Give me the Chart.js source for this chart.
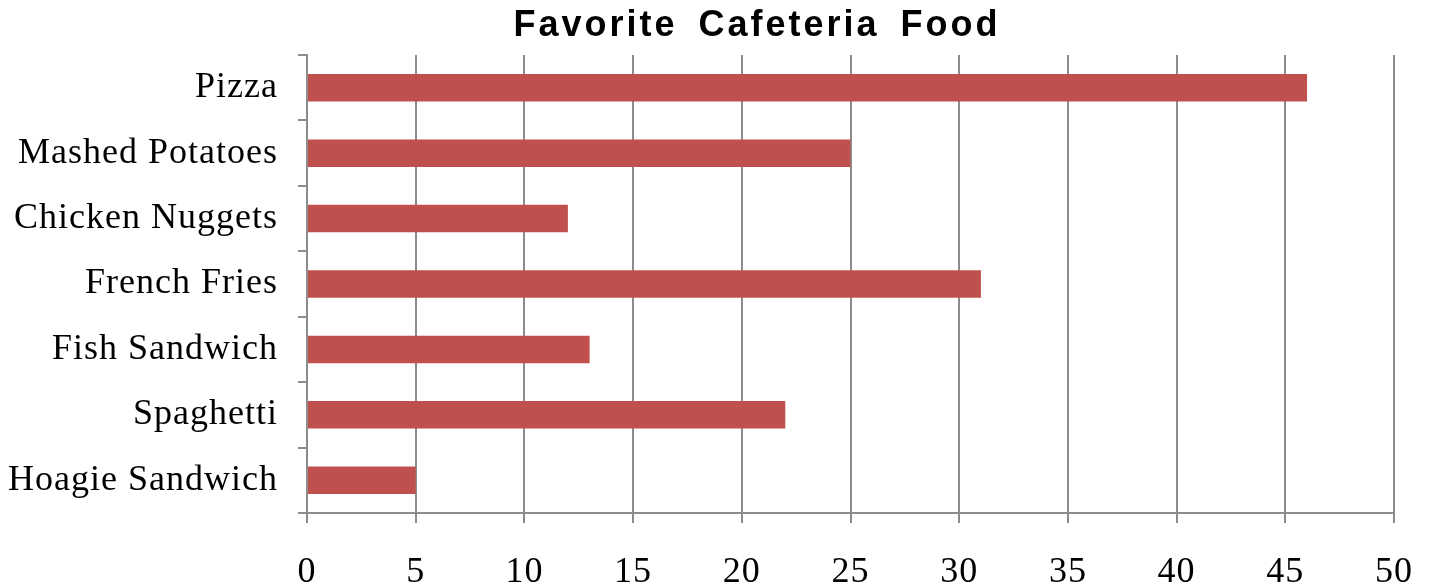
<!DOCTYPE html>
<html>
<head>
<meta charset="utf-8">
<title>Favorite Cafeteria Food</title>
<script src="https://cdn.jsdelivr.net/npm/chart.js@4"></script>
<style>
  html, body { margin: 0; padding: 0; background: #fff; }
  #wrap { width: 1432px; height: 588px; }
</style>
</head>
<body>
<div id="wrap"><canvas id="foodChart" width="1432" height="588"></canvas></div>
<script>
// survey data
const chartTitle = 'Favorite Cafeteria Food';
const foods = ['Pizza', 'Mashed Potatoes', 'Chicken Nuggets', 'French Fries', 'Fish Sandwich', 'Spaghetti', 'Hoagie Sandwich'];
const votes = [46, 25, 12, 31, 13, 22, 5];
const axisMin = 0;
const axisMax = 50;
const axisStep = 5;

const barColor = '#C0504D';
const lineColor = '#8c8c8c';
const serif = '"Liberation Serif", "Times New Roman", serif';

// a touch of letter spacing on axis labels, and a hand-drawn spaced-out title
const spacedText = {
  id: 'spacedText',
  beforeDraw(chart) {
    chart.ctx.letterSpacing = '1px';
  },
  afterDraw(chart) {
    const ctx = chart.ctx;
    ctx.save();
    ctx.font = 'bold 36px "Liberation Sans", Arial, sans-serif';
    ctx.fillStyle = '#000';
    ctx.textAlign = 'center';
    ctx.textBaseline = 'middle';
    ctx.letterSpacing = '3px';
    ctx.wordSpacing = '8px';
    ctx.fillText(chartTitle, 757, 26);
    ctx.restore();
    ctx.letterSpacing = '0px';
  }
};

new Chart(document.getElementById('foodChart'), {
  type: 'bar',
  data: {
    labels: foods,
    datasets: [{
      data: votes,
      backgroundColor: barColor,
      borderWidth: 0,
      barPercentage: 0.42,
      categoryPercentage: 1
    }]
  },
  options: {
    indexAxis: 'y',
    responsive: false,
    animation: false,
    layout: { padding: { top: 55, right: 38, left: 0, bottom: 0 } },
    plugins: {
      legend: { display: false },
      title: { display: false },
      tooltip: { enabled: false }
    },
    scales: {
      x: {
        min: axisMin,
        max: axisMax,
        afterFit(scale) {
          scale.height = 75;
          scale.paddingLeft = 0;
          scale.paddingRight = 0;
        },
        ticks: {
          stepSize: axisStep,
          color: '#000',
          font: { family: serif, size: 36 },
          padding: 28
        },
        grid: {
          color: lineColor,
          lineWidth: 2,
          tickLength: 10
        },
        border: { color: lineColor, width: 2 }
      },
      y: {
        afterFit(scale) {
          scale.width = 307;
          scale.paddingTop = 0;
          scale.paddingBottom = 0;
        },
        ticks: {
          color: '#000',
          font: { family: serif, size: 36 },
          padding: 20
        },
        grid: {
          offset: true,
          drawOnChartArea: false,
          color: lineColor,
          lineWidth: 2,
          tickLength: 9
        },
        border: { color: lineColor, width: 2 }
      }
    }
  },
  plugins: [spacedText]
});
</script>
</body>
</html>
